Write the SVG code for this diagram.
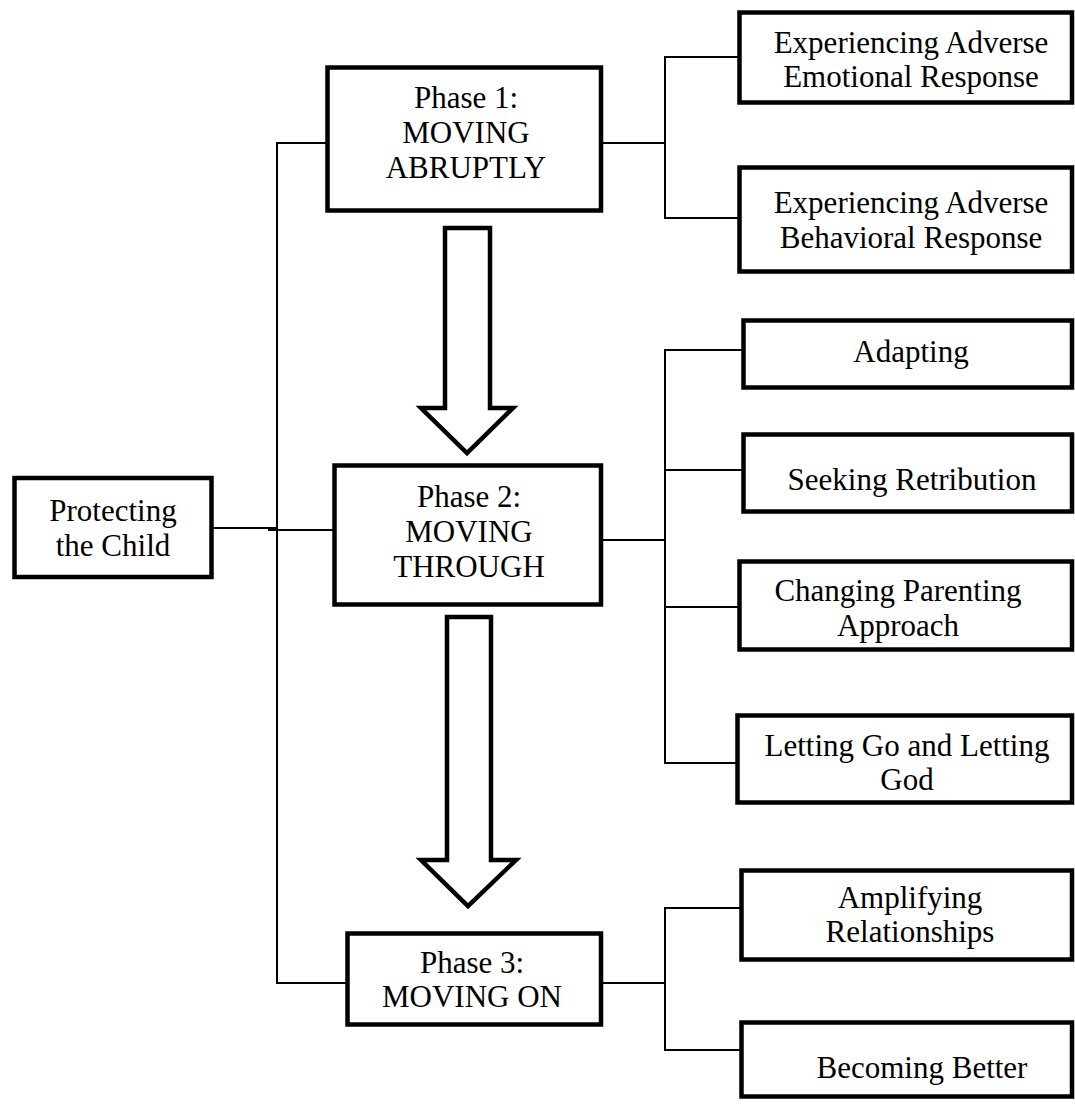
<svg xmlns="http://www.w3.org/2000/svg" width="1075" height="1107" viewBox="0 0 1075 1107">
<style>
.box{fill:#fff;stroke:#000;stroke-width:4.5}
.arrow{fill:#fff;stroke:#000;stroke-width:4.5;stroke-linejoin:miter}
.ln{stroke:#000;stroke-width:2;fill:none}
text{font-family:"Liberation Serif","Times New Roman",serif;font-size:31px;fill:#000;text-anchor:middle}
</style>
<rect width="1075" height="1107" fill="#fff"/>
<g id="connectors">
<line class="ln" x1="277" y1="142" x2="277" y2="984"/>
<line class="ln" x1="276" y1="143" x2="326" y2="143"/>
<line class="ln" x1="213" y1="528" x2="277" y2="528"/>
<line class="ln" x1="268" y1="530" x2="334" y2="530"/>
<line class="ln" x1="276" y1="983" x2="346" y2="983"/>
<line class="ln" x1="602" y1="143" x2="665" y2="143"/>
<line class="ln" x1="665" y1="56" x2="665" y2="219"/>
<line class="ln" x1="664" y1="57" x2="738" y2="57"/>
<line class="ln" x1="664" y1="218" x2="738" y2="218"/>
<line class="ln" x1="602" y1="540" x2="665" y2="540"/>
<line class="ln" x1="665" y1="349" x2="665" y2="764"/>
<line class="ln" x1="664" y1="350" x2="742" y2="350"/>
<line class="ln" x1="664" y1="470" x2="742" y2="470"/>
<line class="ln" x1="664" y1="607" x2="738" y2="607"/>
<line class="ln" x1="664" y1="763" x2="736" y2="763"/>
<line class="ln" x1="602" y1="983" x2="665" y2="983"/>
<line class="ln" x1="665" y1="907" x2="665" y2="1051"/>
<line class="ln" x1="664" y1="908" x2="740" y2="908"/>
<line class="ln" x1="664" y1="1050" x2="741" y2="1050"/>
<polygon class="arrow" points="445,228 490,228 490,408 513,408 467,453 421,408 445,408"/>
<polygon class="arrow" points="447,617 491,617 491,860 516,860 468,906 421,860 447,860"/>
</g>
<g id="protecting"><rect class="box" x="14.5" y="478" width="197" height="99"/><text x="113" y="521">Protecting</text><text x="113" y="556">the Child</text></g>
<g id="phase1"><rect class="box" x="327.5" y="67.5" width="273.5" height="143"/><text x="466" y="108">Phase 1:</text><text x="466" y="143">MOVING</text><text x="466" y="178">ABRUPTLY</text></g>
<g id="phase2"><rect class="box" x="334.5" y="465.5" width="266.5" height="139"/><text x="469" y="507">Phase 2:</text><text x="469" y="542">MOVING</text><text x="469" y="577">THROUGH</text></g>
<g id="phase3"><rect class="box" x="347.5" y="933.5" width="253.5" height="91"/><text x="472" y="973">Phase 3:</text><text x="472" y="1007">MOVING ON</text></g>
<g id="emotional"><rect class="box" x="739.5" y="12.5" width="332.5" height="90"/><text x="911" y="53">Experiencing Adverse</text><text x="911" y="87">Emotional Response</text></g>
<g id="behavioral"><rect class="box" x="739.5" y="167.5" width="332.5" height="104"/><text x="911" y="213">Experiencing Adverse</text><text x="911" y="248">Behavioral Response</text></g>
<g id="adapting"><rect class="box" x="743.5" y="320.5" width="328.5" height="67"/><text x="911" y="362">Adapting</text></g>
<g id="seeking"><rect class="box" x="743.5" y="434.5" width="328.5" height="77"/><text x="912" y="490">Seeking Retribution</text></g>
<g id="changing"><rect class="box" x="739.5" y="561.5" width="332.5" height="88"/><text x="898" y="601">Changing Parenting</text><text x="898" y="636">Approach</text></g>
<g id="letting"><rect class="box" x="737.5" y="715.5" width="334.5" height="87"/><text x="907" y="756">Letting Go and Letting</text><text x="907" y="790">God</text></g>
<g id="amplifying"><rect class="box" x="741.5" y="870.5" width="330.5" height="89"/><text x="910" y="908">Amplifying</text><text x="910" y="942">Relationships</text></g>
<g id="becoming"><rect class="box" x="741.5" y="1022.5" width="330.5" height="74"/><text x="922" y="1078">Becoming Better</text></g>
</svg>
